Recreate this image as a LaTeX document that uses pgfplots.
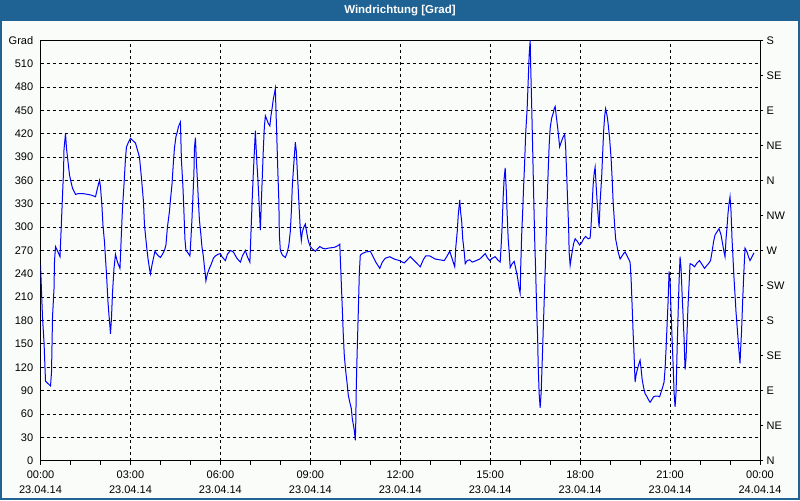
\documentclass[border=0pt]{standalone}
\usepackage{pgfplots}
\pgfplotsset{compat=1.18}
\usepackage{pgfplotstable}
\usepackage{fontspec}
\setmainfont{Liberation Sans}
\definecolor{framecol}{RGB}{30,99,148}
\definecolor{bgcol}{RGB}{250,252,250}
\pgfplotstableread{
m d
0 251
2 217
4 183
7 152
9 118
10 102
20 96
22 114
24 185
27 221
28 257
30 275
35 268
39 262
40 278
42 309
44 341
46 371
47 400
50 420
52 401
54 390
56 378
58 367
61 358
64 350
70 342
75 343
85 343
95 342
102 341
110 339
114 350
118 360
120 352
123 326
125 302
128 281
130 260
132 240
135 204
137 187
139 172
140 163
142 183
144 215
147 247
150 265
154 255
159 247
162 294
164 324
167 354
170 388
172 403
176 409
180 414
185 411
190 408
194 399
198 390
202 363
206 333
208 303
212 277
215 260
218 247
220 240
223 251
226 260
229 269
232 266
236 263
240 261
244 265
248 270
251 277
254 300
258 320
260 335
263 354
266 384
268 401
271 416
274 423
276 429
278 432
280 435
282 386
285 352
287 320
289 285
291 270
295 267
299 263
301 285
303 309
305 339
307 369
308 401
310 415
312 383
314 360
316 333
318 309
321 290
323 275
326 262
328 249
330 238
331 231
334 240
338 247
342 253
346 260
350 263
355 265
360 266
363 262
370 257
374 265
380 270
386 268
393 260
400 255
404 263
410 270
414 262
419 255
420 272
422 307
424 341
426 371
428 397
430 424
431 409
433 383
435 362
437 337
439 309
440 296
442 333
444 367
446 401
448 429
450 443
453 438
456 433
459 430
461 442
464 455
466 465
468 471
470 478
471 455
473 414
475 371
477 333
478 290
480 270
484 264
490 261
494 268
497 277
500 295
502 320
504 354
507 382
510 409
512 397
514 371
516 346
518 320
520 296
522 283
524 294
527 300
530 304
532 296
535 285
538 278
540 275
544 272
550 269
554 272
559 275
564 273
570 272
576 273
588 274
595 276
599 278
600 260
602 228
604 195
606 161
608 135
611 114
614 97
616 84
619 75
622 67
624 54
628 39
630 26
631 50
632 97
634 146
636 191
638 240
640 264
644 266
651 268
660 269
664 264
671 255
679 247
684 255
690 260
699 262
708 259
718 257
728 254
734 258
740 262
748 257
760 249
766 258
771 263
779 263
790 259
799 258
808 257
813 262
819 269
824 259
829 249
831 273
834 294
836 315
839 335
841 318
843 307
845 285
848 268
850 253
854 257
859 258
864 255
872 257
879 259
884 262
890 266
894 261
899 257
904 260
910 262
915 258
920 255
922 277
924 303
926 339
928 363
930 376
932 350
934 316
936 285
938 268
940 248
944 253
948 256
951 247
954 238
956 230
958 221
960 215
961 247
963 290
965 320
967 354
969 384
971 420
974 453
976 487
978 521
980 540
981 508
983 457
985 401
987 341
989 285
991 243
993 195
995 157
996 123
998 86
1000 68
1002 88
1004 125
1006 165
1008 204
1010 243
1012 285
1014 333
1016 371
1018 405
1020 427
1023 440
1026 446
1028 452
1030 455
1032 444
1035 428
1037 416
1039 403
1042 409
1046 416
1049 419
1051 403
1053 369
1055 333
1057 299
1058 268
1060 251
1062 260
1064 268
1067 279
1070 285
1074 282
1079 277
1083 280
1087 285
1091 288
1096 285
1100 286
1102 303
1104 328
1106 354
1108 369
1110 377
1112 354
1114 333
1116 315
1118 300
1120 333
1123 363
1125 393
1127 423
1129 442
1131 452
1134 443
1136 433
1139 414
1142 388
1144 363
1146 333
1149 303
1151 285
1154 275
1156 268
1160 259
1163 262
1167 266
1170 268
1174 263
1177 259
1180 255
1182 234
1184 200
1186 165
1188 135
1190 101
1192 110
1194 116
1197 123
1200 129
1202 118
1204 105
1207 94
1210 86
1214 82
1217 78
1220 75
1223 78
1227 82
1231 83
1235 83
1239 82
1242 88
1245 94
1248 101
1250 118
1252 144
1254 174
1256 204
1258 243
1260 230
1262 191
1264 157
1266 125
1268 88
1270 69
1272 88
1274 140
1276 187
1278 230
1280 262
1282 247
1284 215
1286 187
1288 157
1290 117
1292 132
1294 165
1296 200
1298 226
1300 253
1304 252
1309 249
1314 254
1319 257
1324 252
1329 247
1334 251
1338 254
1341 257
1344 268
1347 281
1350 290
1354 294
1358 298
1362 290
1365 279
1368 268
1370 262
1372 285
1374 300
1376 318
1378 330
1380 339
1382 320
1384 285
1386 260
1388 234
1390 213
1392 191
1394 174
1396 157
1398 140
1400 125
1401 140
1403 165
1405 200
1407 232
1409 260
1410 273
1414 268
1417 262
1420 257
1424 262
1428 267
}\winddata
\begin{document}
\begin{tikzpicture}
\fill[framecol] (0pt,0pt) rectangle (600pt,375pt);
\fill[bgcol] (1.5pt,1.5pt) rectangle (598.5pt,359.5pt);
\node[white,font=\fontsize{8.6}{10}\selectfont\bfseries] at (300pt,367pt) {Windrichtung [Grad]};
\begin{axis}[
  at={(30.4pt,29.5pt)}, anchor=south west,
  scale only axis, width=539.6pt, height=315.3pt,
  xmin=0, xmax=1440, ymin=0, ymax=540,
  axis line style={black, line width=0.75pt},
  xtick={0,180,...,1440},
  xticklabels={{00:00\\23.04.14},{03:00\\23.04.14},{06:00\\23.04.14},{09:00\\23.04.14},{12:00\\23.04.14},{15:00\\23.04.14},{18:00\\23.04.14},{21:00\\23.04.14},{00:00\\24.04.14}},
  minor xtick={60,120,...,1380},
  xtick pos=bottom, tick align=outside,
  major tick length=3pt, minor tick length=3pt,
  xtick style={black, line width=0.6pt},
  minor tick style={black, line width=0.6pt},
  ytick={0,30,...,540},
  yticklabels={0,30,60,90,120,150,180,210,240,270,300,330,360,390,420,450,480,510,Grad},
  ytick pos=left, ytick style={draw=none},
  grid=major,
  major grid style={black, line width=0.6pt, dash pattern=on 2.25pt off 2.25pt},
  xticklabel style={align=center, font=\fontsize{8.25}{11.25}\selectfont, yshift=-1pt},
  yticklabel style={font=\fontsize{8.25}{10}\selectfont, xshift=1pt},
  clip=true,
]
\addplot[blue, line width=0.75pt] table[x=m, y=d] {\winddata};
\end{axis}
\begin{axis}[
  at={(30.4pt,29.5pt)}, anchor=south west,
  scale only axis, width=539.6pt, height=315.3pt,
  xmin=0, xmax=1440, ymin=0, ymax=540,
  axis x line=none, axis y line*=right,
  axis line style={black, line width=0.75pt, -},
  ytick={0,45,...,540},
  yticklabels={N,NE,E,SE,S,SW,W,NW,N,NE,E,SE,S},
  tick align=outside, major tick length=2.5pt,
  ytick style={black, line width=0.6pt},
  yticklabel style={font=\fontsize{8.25}{10}\selectfont, xshift=-1pt},
]
\end{axis}
\end{tikzpicture}
\end{document}
